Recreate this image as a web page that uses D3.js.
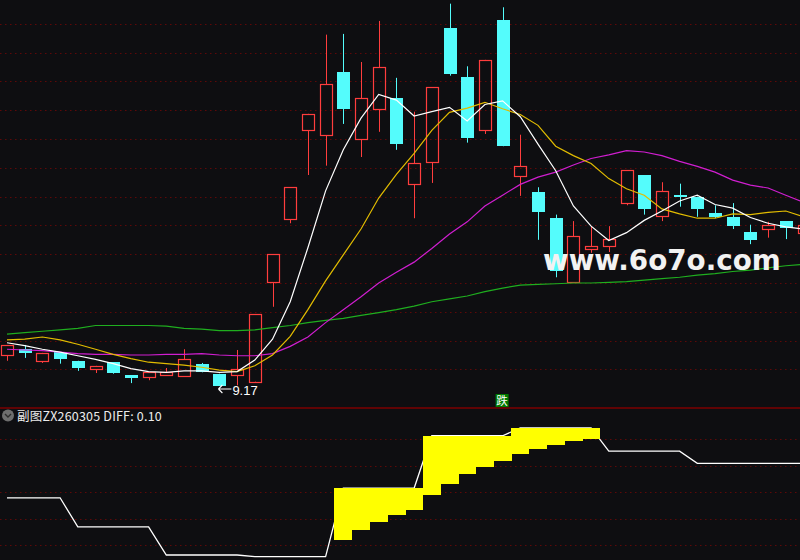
<!DOCTYPE html>
<html><head><meta charset="utf-8">
<script src="https://cdn.jsdelivr.net/npm/d3@7"></script>
<style>html,body{margin:0;padding:0;background:#0e0e11;overflow:hidden}</style>
</head><body><svg id="c" width="800" height="560"></svg>
<script>
// ---- candles (46 sessions) ----
const opens  = [9.60,9.68,9.52,9.64,9.52,9.41,9.50,9.32,9.30,9.32, 9.31,9.48,9.34,9.32,9.23,10.61,11.49,12.73,12.66,13.53, 12.60,13.02,13.17,11.98,12.28,14.14,13.46,12.73,14.25,12.09, 11.86,11.50,10.61,11.07,11.11,11.71,12.10,11.53,11.82,11.80, 11.57,11.52,11.31,11.35,11.46,11.30];
const highs  = [9.74,9.74,9.63,9.64,9.52,9.45,9.50,9.32,9.36,9.42, 9.68,9.49,9.34,9.67,10.17,11.00,11.93,12.95,14.05,14.06, 13.67,14.24,13.45,12.98,13.32,14.48,13.61,13.70,14.43,12.66, 11.93,11.55,11.46,11.38,11.39,12.17,12.10,12.00,11.98,11.80, 11.68,11.71,11.41,11.45,11.46,11.41];
const lows   = [9.52,9.56,9.49,9.48,9.38,9.35,9.34,9.21,9.25,9.32, 9.30,9.36,9.17,9.18,9.23,10.27,11.43,12.10,12.23,12.81, 12.35,12.70,12.45,11.50,11.99,13.48,12.55,12.67,12.50,11.81, 11.20,10.68,10.60,11.02,11.03,11.68,11.55,11.46,11.66,11.52, 11.50,11.35,11.14,11.23,11.21,11.30];
const closes = [9.74,9.63,9.63,9.55,9.42,9.45,9.35,9.28,9.36,9.36, 9.55,9.36,9.17,9.41,10.17,11.00,11.93,12.95,13.36,13.02, 13.17,13.60,12.53,12.27,13.32,13.50,12.61,13.70,12.50,12.23, 11.59,10.77,11.25,11.11,11.21,12.17,11.63,11.88,11.80,11.63, 11.52,11.39,11.20,11.41,11.36,11.41];

// ---- moving averages ----
const ma5  = [9.77,9.73,9.68,9.64,9.59,9.54,9.48,9.41,9.37,9.36, 9.38,9.38,9.36,9.37,9.53,9.82,10.34,11.09,11.88,12.45, 12.89,13.22,13.14,12.92,12.98,13.04,12.85,13.08,13.13,12.91, 12.53,12.16,11.67,11.39,11.19,11.30,11.47,11.60,11.74,11.82, 11.69,11.64,11.51,11.43,11.38,11.35];
const ma10 = [9.81,9.82,9.85,9.81,9.75,9.68,9.61,9.55,9.50,9.48, 9.46,9.43,9.39,9.37,9.45,9.60,9.86,10.23,10.63,10.99, 11.35,11.78,12.11,12.40,12.72,12.97,13.03,13.11,13.02,12.94, 12.79,12.50,12.37,12.26,12.05,11.91,11.82,11.63,11.56,11.50, 11.50,11.56,11.55,11.58,11.60,11.52];
const ma20 = [9.68,9.67,9.66,9.64,9.62,9.61,9.61,9.60,9.60,9.61, 9.61,9.62,9.60,9.59,9.59,9.62,9.72,9.85,10.05,10.23, 10.41,10.60,10.75,10.89,11.08,11.28,11.45,11.67,11.82,11.97, 12.07,12.14,12.24,12.33,12.38,12.44,12.42,12.37,12.29,12.22, 12.14,12.03,11.96,11.92,11.82,11.72];
const ma60 = [9.89,9.91,9.93,9.95,9.97,10.01,10.01,10.01,10.01,10.00, 9.97,9.96,9.94,9.94,9.95,9.98,10.01,10.05,10.08,10.11, 10.15,10.19,10.23,10.28,10.34,10.38,10.42,10.48,10.53,10.57, 10.58,10.59,10.60,10.60,10.61,10.62,10.64,10.66,10.68,10.71, 10.73,10.76,10.78,10.81,10.84,10.86];
const priceTicks = [9.4,9.8,10.2,10.6,11.0,11.4,11.8,12.2,12.6,13.0,13.4,13.8,14.2];

// ---- sub chart ZX260305 ----
const diff = [0.040,0.040,0.040,0.040,-0.015,-0.015,-0.015,-0.015,-0.015,-0.068, -0.068,-0.068,-0.068,-0.068,-0.071,-0.071,-0.071,-0.071,-0.071,0.058, 0.058,0.058,0.058,0.058,0.157,0.157,0.157,0.157,0.157,0.172, 0.172,0.172,0.172,0.172,0.128,0.128,0.128,0.128,0.128,0.105, 0.105,0.105,0.105,0.105,0.105,0.105];
const fillLow = [null,null,null,null,null,null,null,null,null,null, null,null,null,null,null,null,null,null,null,-0.040, -0.021,-0.006,0.008,0.017,0.045,0.066,0.085,0.098,0.109,0.123, 0.132,0.140,0.147,0.151,null,null,null,null,null,null, null,null,null,null,null,null];
const subTicks = [0.15,0.10,0.05,0.00,-0.05];
const signalIdx = [28];
const signalText = "跌";
const subTitle = "副图ZX260305";
const watermark = "www.6o7o.com";

// ---- drawing ----
const W = 800, H = 560;
const svg = d3.select("#c");
svg.append("rect").attr("width", W).attr("height", H).attr("fill", "#0e0e11");

const x = d3.scaleLinear().domain([0, closes.length - 1]).range([7, 803.5]);
const y = d3.scaleLinear().domain([8.878, 14.531]).range([407, 0]);
const yl = d3.scaleLinear().domain([-0.0774, 0.2094]).range([560, 408]);
const step = x(1) - x(0);
const px = v => Math.round(v) + 0.5;

const grid = svg.append("g").attr("stroke", "#5e0808").attr("stroke-dasharray", "1.5,3.5").attr("stroke-width", 1);
priceTicks.forEach(v => grid.append("line").attr("x1", 0).attr("x2", W).attr("y1", px(y(v))).attr("y2", px(y(v))));
subTicks.forEach(v => grid.append("line").attr("x1", 0).attr("x2", W).attr("y1", px(yl(v))).attr("y2", px(yl(v))));

// candles
const RED = "#ff3d3d", CYAN = "#54fcfc";
const cg = svg.append("g");
closes.forEach((c, i) => {
  const o = opens[i], h = highs[i], l = lows[i];
  const cx = px(x(i));
  if (c >= o) {
    const top = Math.round(y(c)), bot = Math.round(y(o));
    cg.append("line").attr("x1", cx).attr("x2", cx).attr("y1", y(h)).attr("y2", top).attr("stroke", RED);
    cg.append("line").attr("x1", cx).attr("x2", cx).attr("y1", bot).attr("y2", y(l)).attr("stroke", RED);
    cg.append("rect").attr("x", cx - 6).attr("y", top + 0.5).attr("width", 12).attr("height", Math.max(1, bot - top))
      .attr("fill", "none").attr("stroke", RED).attr("stroke-width", 1.2);
  } else {
    const top = Math.round(y(o)), bot = Math.round(y(c));
    cg.append("line").attr("x1", cx).attr("x2", cx).attr("y1", y(h)).attr("y2", y(l)).attr("stroke", CYAN);
    cg.append("rect").attr("x", cx - 6.5).attr("y", top).attr("width", 13).attr("height", Math.max(1.5, bot - top))
      .attr("fill", CYAN);
  }
});

// moving averages
const line = d3.line().x((d, i) => x(i)).y(d => y(d));
[[ma60, "#1fae1f"], [ma20, "#d01ed0"], [ma10, "#e2bc00"], [ma5, "#ffffff"]].forEach(([arr, col]) => {
  svg.append("path").attr("d", line(arr)).attr("fill", "none").attr("stroke", col).attr("stroke-width", 1.2);
});

// lowest price marker
const minLow = d3.min(lows), minI = lows.indexOf(minLow);
const ly = Math.round(y(minLow)) + 3;
const ax = x(minI) - 1;
svg.append("path").attr("d", `M${ax},${ly} H${ax + 13} M${ax},${ly} l4,-4 M${ax},${ly} l4,4`)
  .attr("stroke", "#ffffff").attr("stroke-width", 1.1).attr("fill", "none");
svg.append("text").attr("x", ax + 14).attr("y", ly + 5.5).attr("fill", "#ffffff")
  .attr("font-family", "'Liberation Sans', Arial, sans-serif").attr("font-size", 13).text(d3.format(".2f")(minLow));

// separator
svg.append("line").attr("x1", 0).attr("x2", W).attr("y1", 408).attr("y2", 408).attr("stroke", "#7c0000").attr("stroke-width", 1.5);

// signal markers
signalIdx.forEach(i => {
  svg.append("rect").attr("x", x(i) - 7).attr("y", 394).attr("width", 13).attr("height", 13).attr("fill", "#007a00");
  svg.append("text").attr("x", x(i) - 0.5).attr("y", 405).attr("text-anchor", "middle").attr("fill", "#ffffff")
    .attr("font-family", "'Noto Sans CJK SC', sans-serif").attr("font-size", 11.5).text(signalText);
});

// sub chart line and bars
const lline = d3.line().x((d, i) => x(i)).y(d => yl(d));
svg.append("path").attr("d", lline(diff)).attr("fill", "none").attr("stroke", "#ffffff").attr("stroke-width", 1.3);
const bg = svg.append("g").attr("fill", "#ffff00").attr("shape-rendering", "crispEdges");
fillLow.forEach((lo, i) => {
  if (lo === null) return;
  const t = yl(diff[i]), b = yl(lo);
  bg.append("rect").attr("x", x(i) - step / 2).attr("y", t).attr("width", step + 0.3).attr("height", b - t);
});

// sub title
svg.append("circle").attr("cx", 8).attr("cy", 415.5).attr("r", 6).attr("fill", "#6e6e6e");
svg.append("path").attr("d", "M5,414 L8,417 L11,414").attr("stroke", "#2c2c2c").attr("stroke-width", 1.4).attr("fill", "none");
svg.append("text").attr("x", 17).attr("y", 421).attr("fill", "#ececec")
  .attr("font-family", "'Noto Sans CJK SC', sans-serif").attr("font-size", 12.5).attr("letter-spacing", 0.2)
  .text(subTitle + " DIFF: " + d3.format(".2f")(diff[diff.length - 1]));

// watermark
svg.append("text").attr("x", 543).attr("y", 270).attr("fill", "#f2f2f2")
  .attr("font-family", "'DejaVu Sans', sans-serif").attr("font-weight", "bold").attr("font-size", 27.8)
  .text(watermark);
</script></body></html>
